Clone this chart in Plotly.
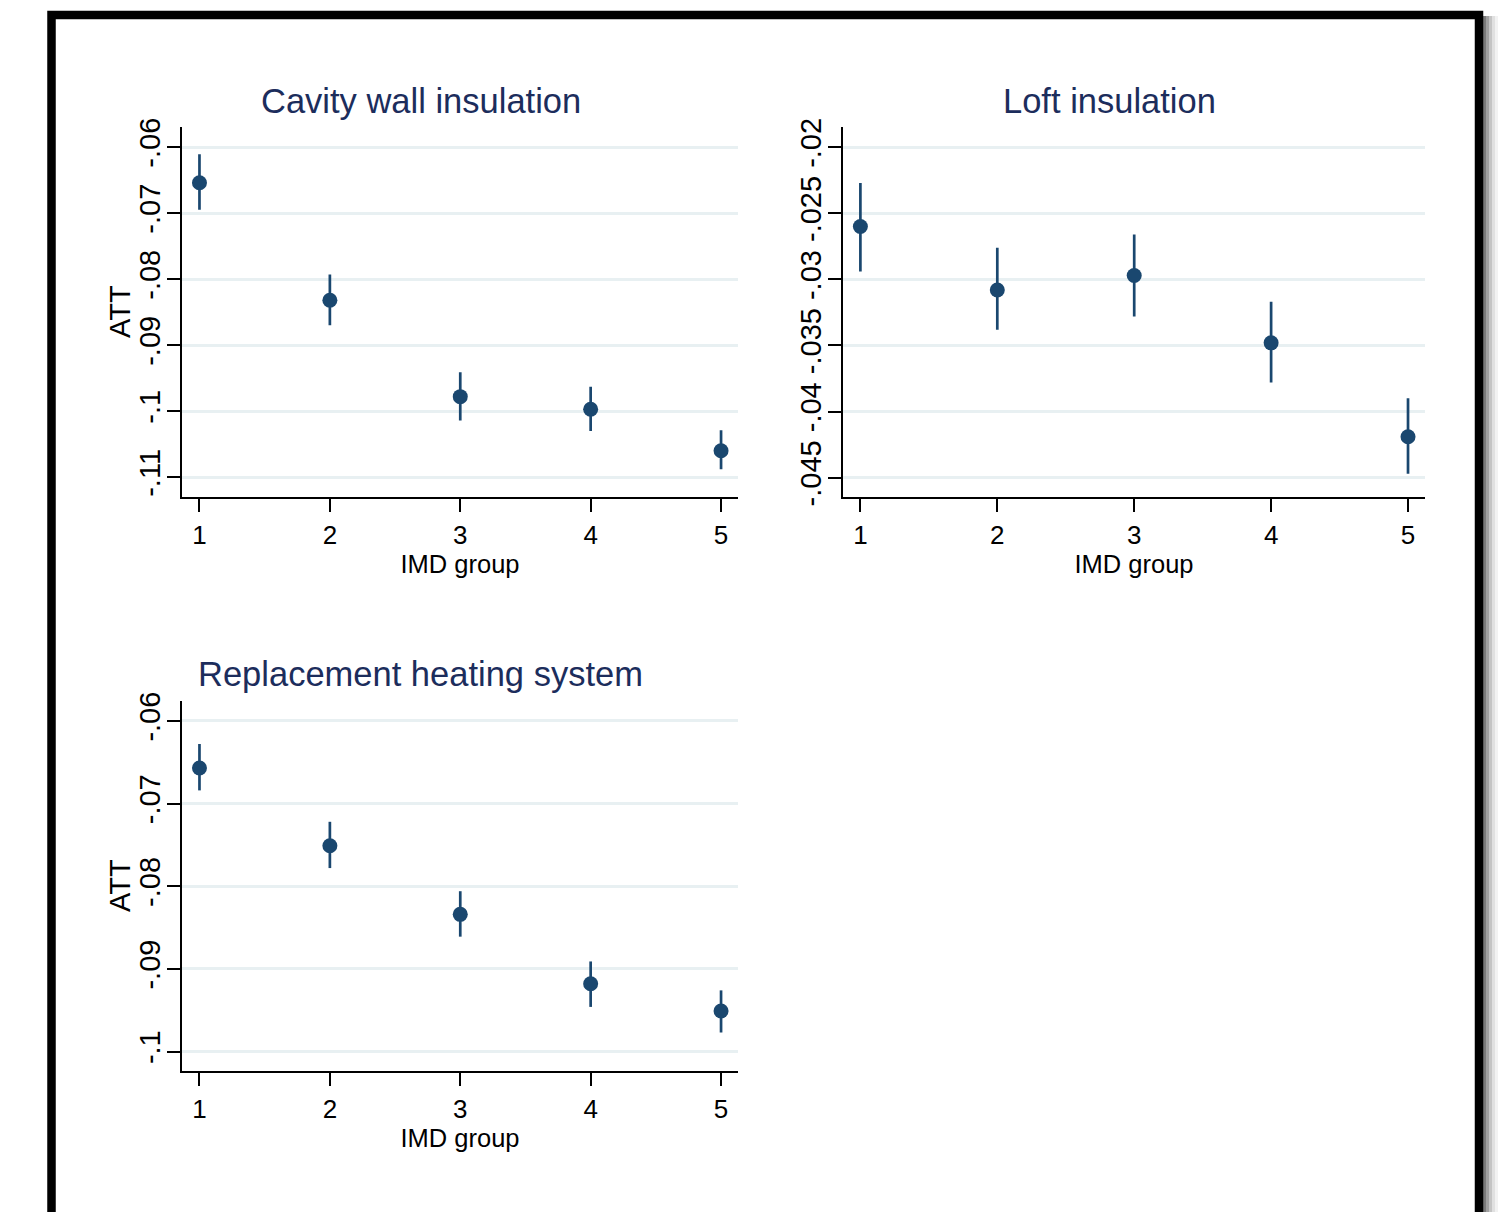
import plotly.graph_objects as go

# ---- data ----
imd_groups = [1, 2, 3, 4, 5]

cavity_att = [-0.0654, -0.0832, -0.0978, -0.0997, -0.1060]
cavity_lo = [-0.0695, -0.0870, -0.1014, -0.1030, -0.1088]
cavity_hi = [-0.0611, -0.0793, -0.0941, -0.0963, -0.1029]

loft_att = [-0.0260, -0.0308, -0.0297, -0.0348, -0.0419]
loft_lo = [-0.0294, -0.0338, -0.0328, -0.0378, -0.0447]
loft_hi = [-0.0227, -0.0276, -0.0266, -0.0317, -0.0390]

heat_att = [-0.0657, -0.0751, -0.0834, -0.0918, -0.0951]
heat_lo = [-0.0684, -0.0778, -0.0861, -0.0946, -0.0977]
heat_hi = [-0.0628, -0.0722, -0.0806, -0.0891, -0.0926]

cavity_ticks = [-0.06, -0.07, -0.08, -0.09, -0.10, -0.11]
cavity_ticktext = ["-.06", "-.07", "-.08", "-.09", "-.1", "-.11"]
loft_ticks = [-0.02, -0.025, -0.03, -0.035, -0.04, -0.045]
loft_ticktext = ["-.02", "-.025", "-.03", "-.035", "-.04", "-.045"]
heat_ticks = [-0.06, -0.07, -0.08, -0.09, -0.10]
heat_ticktext = ["-.06", "-.07", "-.08", "-.09", "-.1"]

titles = ["Cavity wall insulation", "Loft insulation", "Replacement heating system"]
x_title = "IMD group"
y_title = "ATT"

# ---- styling ----
W, H = 1506, 1212
NAVY = "#1a476f"
TITLE_C = "#1c2d5c"
GRID_C = "#e8f0f2"
FONT = "Liberation Sans, Arial, sans-serif"


def px_x(p):
    return p / W


def px_y(p):
    return 1 - p / H


fig = go.Figure()

panels = [
    (cavity_att, cavity_lo, cavity_hi, "x", "y"),
    (loft_att, loft_lo, loft_hi, "x2", "y2"),
    (heat_att, heat_lo, heat_hi, "x3", "y3"),
]
for att, lo, hi, xa, ya in panels:
    fig.add_trace(go.Scatter(
        x=imd_groups, y=att, mode="markers", xaxis=xa, yaxis=ya,
        marker=dict(color=NAVY, size=15, line=dict(width=0)),
        error_y=dict(type="data", symmetric=False,
                     array=[h - a for h, a in zip(hi, att)],
                     arrayminus=[a - l for a, l in zip(att, lo)],
                     color=NAVY, thickness=2.7, width=0),
        showlegend=False, hoverinfo="skip",
    ))


def xaxis(domain, rng, anchor):
    return dict(domain=domain, range=rng, anchor=anchor, automargin=False,
                tickvals=imd_groups, ticktext=[str(v) for v in imd_groups],
                ticks="outside", ticklen=13, tickwidth=2, tickcolor="black",
                ticklabelstandoff=1,
                showline=True, linewidth=2, linecolor="black",
                showgrid=False, zeroline=False,
                tickfont=dict(family=FONT, size=26, color="black"),
                title=dict(text=x_title, standoff=2,
                           font=dict(family=FONT, size=25.5, color="black")))


def yaxis(domain, rng, anchor, tv, tt):
    return dict(domain=domain, range=rng, anchor=anchor, automargin=False,
                tickvals=tv, ticktext=tt, tickangle=-90,
                ticks="outside", ticklen=13, tickwidth=2, tickcolor="black",
                ticklabelstandoff=-5,
                showline=True, linewidth=2, linecolor="black",
                showgrid=True, gridcolor=GRID_C, gridwidth=3,
                zeroline=False,
                tickfont=dict(family=FONT, size=29, color="black"))


dx_left = [px_x(182), px_x(738)]
dx_right = [px_x(843), px_x(1425)]
dy_top = [px_y(496.7), px_y(127.4)]
dy_bot = [px_y(1071.2), px_y(701.3)]

fig.update_layout(
    width=W, height=H, autosize=False,
    margin=dict(l=0, r=0, t=0, b=0, pad=0, autoexpand=False),
    paper_bgcolor="white", plot_bgcolor="white",
    font=dict(family=FONT, color="black"),
    xaxis=xaxis(dx_left, [0.866, 5.13], "y"),
    yaxis=yaxis(dy_top, [-0.11295, -0.05703], "x", cavity_ticks, cavity_ticktext),
    xaxis2=xaxis(dx_right, [0.873, 5.124], "y2"),
    yaxis2=yaxis(dy_top, [-0.04644, -0.0185], "x2", loft_ticks, loft_ticktext),
    xaxis3=xaxis(dx_left, [0.866, 5.13], "y3"),
    yaxis3=yaxis(dy_bot, [-0.10238, -0.05762], "x3", heat_ticks, heat_ticktext),
)

# panel titles
title_pos = [(421, 101), (1109, 101), (421, 674)]
for t, (tx, ty) in zip(titles, title_pos):
    fig.add_annotation(text=t, xref="paper", yref="paper", x=px_x(tx), y=px_y(ty),
                       xanchor="center", yanchor="middle", showarrow=False,
                       font=dict(family=FONT, size=34.5, color=TITLE_C))

# y axis titles (left panels only)
for ty in (312, 886):
    fig.add_annotation(text=y_title, xref="paper", yref="paper", x=px_x(120), y=px_y(ty),
                       xanchor="center", yanchor="middle", showarrow=False, textangle=-90,
                       font=dict(family=FONT, size=29, color="black"))

# drop shadow on right of frame
shadow = [(1483, 1486, "#7a7a7a"), (1486, 1489, "#a0a0a0"), (1489, 1492, "#c4c4c4"),
          (1492, 1495, "#e0e0e0"), (1495, 1498, "#f2f2f2")]
for x0, x1, c in shadow:
    fig.add_shape(type="rect", xref="paper", yref="paper",
                  x0=px_x(x0), x1=px_x(x1), y0=-0.1, y1=px_y(16),
                  line=dict(width=0), fillcolor=c, layer="below")

# black frame
fig.add_shape(type="rect", xref="paper", yref="paper",
              x0=px_x(51.5), x1=px_x(1479), y0=-0.1, y1=px_y(15),
              line=dict(color="black", width=8.5), fillcolor="rgba(0,0,0,0)")

fig.write_html(
    "out.html",
    config={"displayModeBar": False},
    post_script="document.body.style.margin='0';document.body.style.overflow='hidden';",
)
